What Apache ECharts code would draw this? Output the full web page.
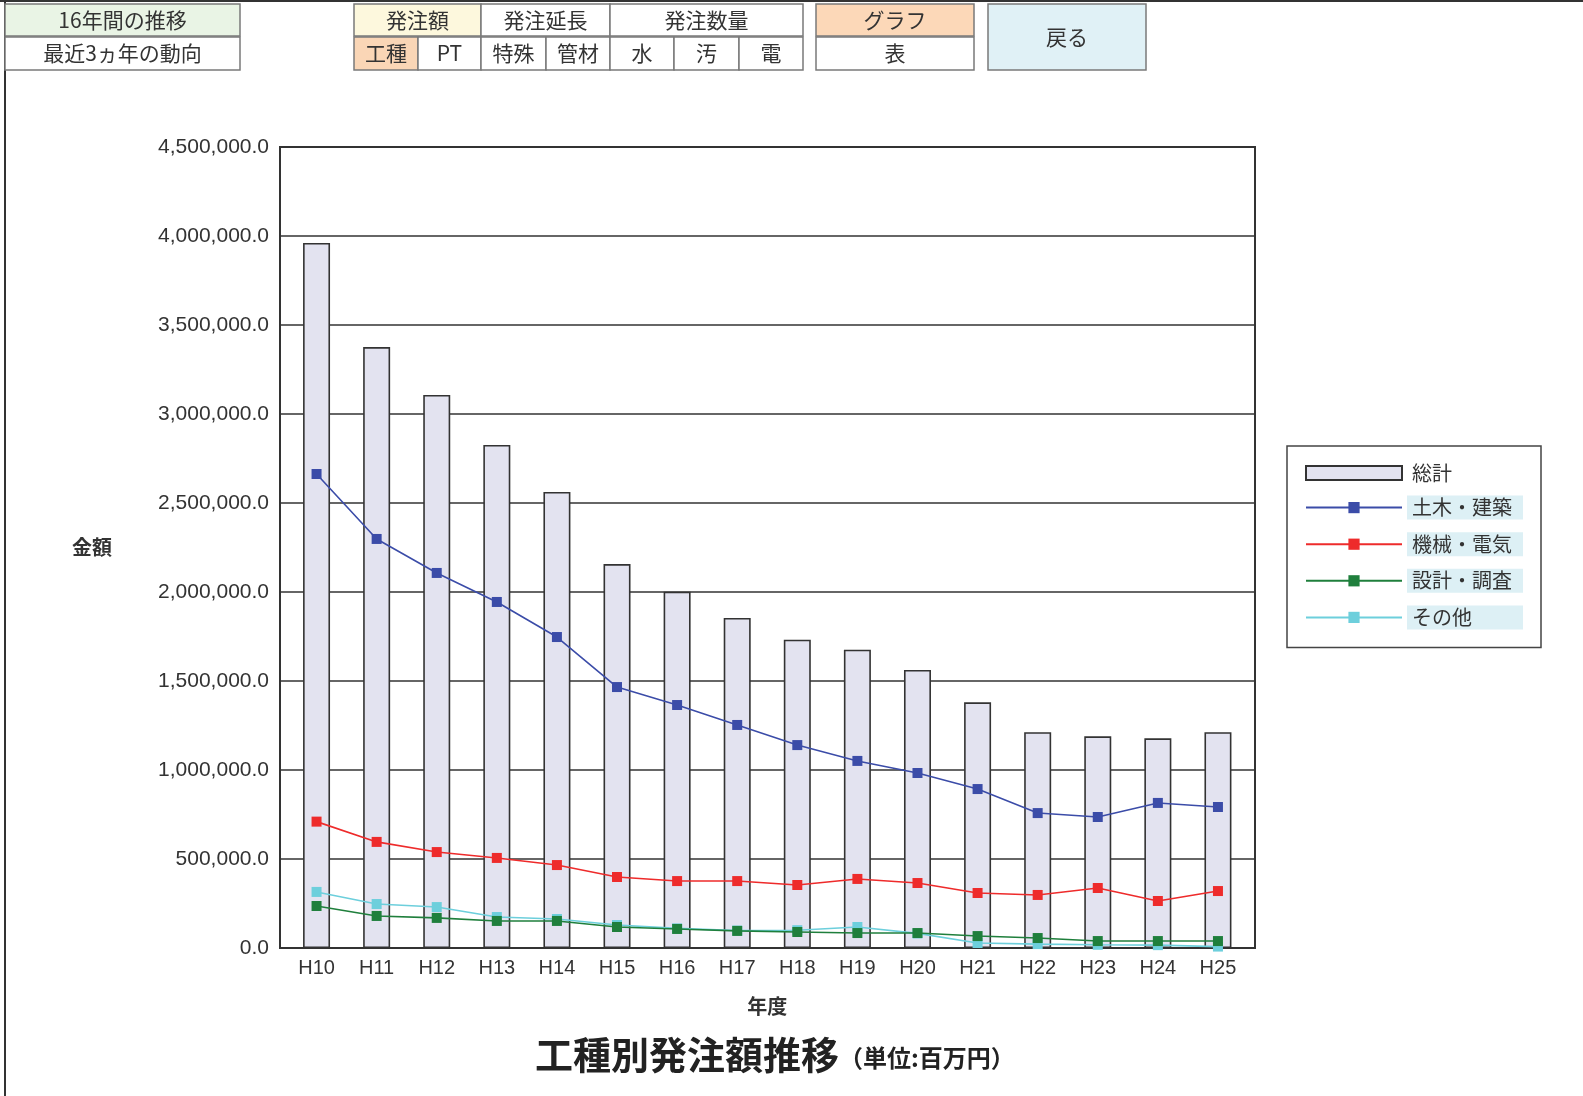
<!DOCTYPE html>
<html>
<head>
<meta charset="utf-8">
<script src="https://cdn.jsdelivr.net/npm/echarts@6/dist/echarts.min.js"></script>
<style>
html,body{margin:0;padding:0;background:#fff;}
#chart{width:1583px;height:1096px;}
</style>
</head>
<body>
<div id="chart"></div>
<script>
// ---- data ----
var categories = ['H10','H11','H12','H13','H14','H15','H16','H17','H18','H19','H20','H21','H22','H23','H24','H25'];
var totalValues  = [3961000,3376000,3107000,2826000,2562000,2157000,2002000,1854000,1732000,1676000,1562000,1380000,1212000,1189000,1178000,1212000];
var civilValues  = [2663000,2298000,2107000,1944000,1747000,1466000,1365000,1253000,1140000,1051000,983000,893000,758000,736000,815000,792000];
var mechValues   = [710000,596000,539000,506000,466000,399000,376000,376000,354000,388000,365000,309000,298000,337000,264000,320000];
var designValues = [236000,180000,169000,152000,152000,118000,107000,96000,90000,84000,84000,67000,56000,39000,39000,39000];
var otherValues  = [315000,247000,230000,174000,163000,129000,110000,98000,100000,118000,82000,28000,22000,18000,16000,8000];
var seriesNames = ['総計','土木・建築','機械・電気','設計・調査','その他'];
var yTicks = {min: 0, max: 4500000, interval: 500000};
var navRow1 = ['16年間の推移','発注額','発注延長','発注数量','グラフ'];
var navRow2 = ['最近3ヵ年の動向','工種','PT','特殊','管材','水','汚','電','表'];
var navBack = '戻る';
var titleMain = '工種別発注額推移';
var titleUnit = '（単位:百万円）';
var xName = '年度';
var yName = '金額';

var FONT = "'Liberation Sans','Noto Sans CJK JP',sans-serif";
var JFONT = "'Noto Sans CJK JP',sans-serif";

function fmt(v){
  var s = Math.round(v).toString();
  var out = '';
  while (s.length > 3) { out = ',' + s.slice(-3) + out; s = s.slice(0, -3); }
  return s + out + '.0';
}

// ---- navigation cells (layout) ----
var cells = [
  {t: navRow1[0], x: 5,   y: 4,  w: 235, h: 32, bg: '#E9F4E5'},
  {t: navRow2[0], x: 5,   y: 37, w: 235, h: 33, bg: '#FFFFFF'},
  {t: navRow1[1], x: 354, y: 4,  w: 127, h: 32, bg: '#FDF8DD'},
  {t: navRow1[2], x: 481, y: 4,  w: 129, h: 32, bg: '#FFFFFF'},
  {t: navRow1[3], x: 610, y: 4,  w: 193, h: 32, bg: '#FFFFFF'},
  {t: navRow2[1], x: 354, y: 37, w: 64,  h: 33, bg: '#FAD6B6'},
  {t: navRow2[2], x: 418, y: 37, w: 63,  h: 33, bg: '#FFFFFF'},
  {t: navRow2[3], x: 481, y: 37, w: 65,  h: 33, bg: '#FFFFFF'},
  {t: navRow2[4], x: 546, y: 37, w: 64,  h: 33, bg: '#FFFFFF'},
  {t: navRow2[5], x: 610, y: 37, w: 64,  h: 33, bg: '#FFFFFF'},
  {t: navRow2[6], x: 674, y: 37, w: 65,  h: 33, bg: '#FFFFFF'},
  {t: navRow2[7], x: 739, y: 37, w: 64,  h: 33, bg: '#FFFFFF'},
  {t: navRow1[4], x: 816, y: 4,  w: 158, h: 32, bg: '#FCD8B8'},
  {t: navRow2[8], x: 816, y: 37, w: 158, h: 33, bg: '#FFFFFF'},
  {t: navBack,    x: 988, y: 4,  w: 158, h: 66, bg: '#E0F1F6'}
];
var graphics = [
  {type: 'rect', shape: {x: 0, y: 0, width: 1583, height: 2}, style: {fill: '#333'}, silent: true},
  {type: 'rect', shape: {x: 4, y: 0, width: 2, height: 1096}, style: {fill: '#333'}, silent: true}
];
cells.forEach(function(c){
  graphics.push({type: 'rect', shape: {x: c.x, y: c.y, width: c.w, height: c.h},
    style: {fill: c.bg, stroke: '#7a7a7a', lineWidth: 1.5}, silent: true});
  graphics.push({type: 'text', x: c.x + c.w / 2, y: c.y + c.h / 2,
    style: {text: c.t, fill: '#333', font: '21px ' + JFONT, textAlign: 'center', textVerticalAlign: 'middle'}, silent: true});
});

var chart = echarts.init(document.getElementById('chart'));
var lineColors = ['#3B4CA8', '#EE2B2B', '#1F7F3C', '#6DCFDC'];
function lineSeries(name, data, color, z){
  return {
    name: name, type: 'line', data: data, xAxisIndex: 1, yAxisIndex: 1,
    symbol: 'rect', symbolSize: 10, showAllSymbol: true, z: z,
    itemStyle: {color: color}, lineStyle: {color: color, width: 1.6},
    emphasis: {disabled: true}
  };
}
var legendTextBg = {backgroundColor: '#DDF0F5', padding: [2, 5], width: 106, color: '#333', fontSize: 20, fontFamily: JFONT};
var option = {
  animation: false,
  backgroundColor: '#fff',
  title: {
    text: '{a|' + titleMain + '}{b|' + titleUnit + '}',
    left: 530, top: 1031,
    textStyle: {rich: {
      a: {fontSize: 38, fontWeight: 'bold', fontFamily: JFONT, color: '#222'},
      b: {fontSize: 24, fontWeight: 'bold', fontFamily: JFONT, color: '#222', padding: [6, 0, 0, 0]}
    }}
  },
  legend: {
    orient: 'vertical', left: 1287, top: 446,
    padding: [17, 18, 18, 18],
    borderColor: '#444', borderWidth: 1.5, backgroundColor: '#fff',
    itemWidth: 96, itemHeight: 14, itemGap: 12.6,
    selectedMode: false,
    textStyle: {fontSize: 20, fontFamily: JFONT, color: '#333', padding: [2, 5], width: 106},
    data: [
      {name: seriesNames[0], icon: 'rect', textStyle: {padding: [2, 5], width: 106}},
      {name: seriesNames[1], textStyle: legendTextBg},
      {name: seriesNames[2], textStyle: legendTextBg},
      {name: seriesNames[3], textStyle: legendTextBg},
      {name: seriesNames[4], textStyle: legendTextBg}
    ]
  },
  graphic: graphics,
  grid: [
    {left: 280, top: 147, right: 328, bottom: 148, show: true, borderColor: '#333', borderWidth: 2, backgroundColor: '#fff'},
    {left: 286.5, top: 147, right: 335, bottom: 148}
  ],
  xAxis: [
    {type: 'category', gridIndex: 0, data: categories, show: false},
    {type: 'category', gridIndex: 1, data: categories,
     axisLine: {show: false}, axisTick: {show: false},
     axisLabel: {fontSize: 20, fontFamily: FONT, color: '#333', margin: 10},
     name: xName, nameLocation: 'middle', nameGap: 48,
     nameTextStyle: {fontSize: 20, fontFamily: JFONT, color: '#333', fontWeight: 'bold'}}
  ],
  yAxis: [
    {type: 'value', gridIndex: 0, min: yTicks.min, max: yTicks.max, interval: yTicks.interval,
     axisLine: {show: false}, axisTick: {show: false},
     axisLabel: {fontSize: 21, fontFamily: FONT, color: '#333', margin: 11, formatter: fmt},
     splitLine: {show: true, lineStyle: {color: '#333', width: 1.6}},
     name: yName, nameLocation: 'middle', nameRotate: 0, nameGap: 168,
     nameTextStyle: {fontSize: 20, fontFamily: JFONT, color: '#333', fontWeight: 'bold'}},
    {type: 'value', gridIndex: 1, min: yTicks.min, max: yTicks.max, interval: yTicks.interval, show: false, splitLine: {show: false}}
  ],
  series: [
    {name: seriesNames[0], type: 'bar', data: totalValues, xAxisIndex: 1, yAxisIndex: 1, barWidth: 27,
     itemStyle: {color: '#E3E3F0', borderColor: '#333', borderWidth: 1.6}, emphasis: {disabled: true}},
    lineSeries(seriesNames[1], civilValues, lineColors[0], 5),
    lineSeries(seriesNames[2], mechValues, lineColors[1], 5),
    lineSeries(seriesNames[4], otherValues, lineColors[3], 5),
    lineSeries(seriesNames[3], designValues, lineColors[2], 6)
  ]
};
chart.setOption(option);
</script>
</body>
</html>
